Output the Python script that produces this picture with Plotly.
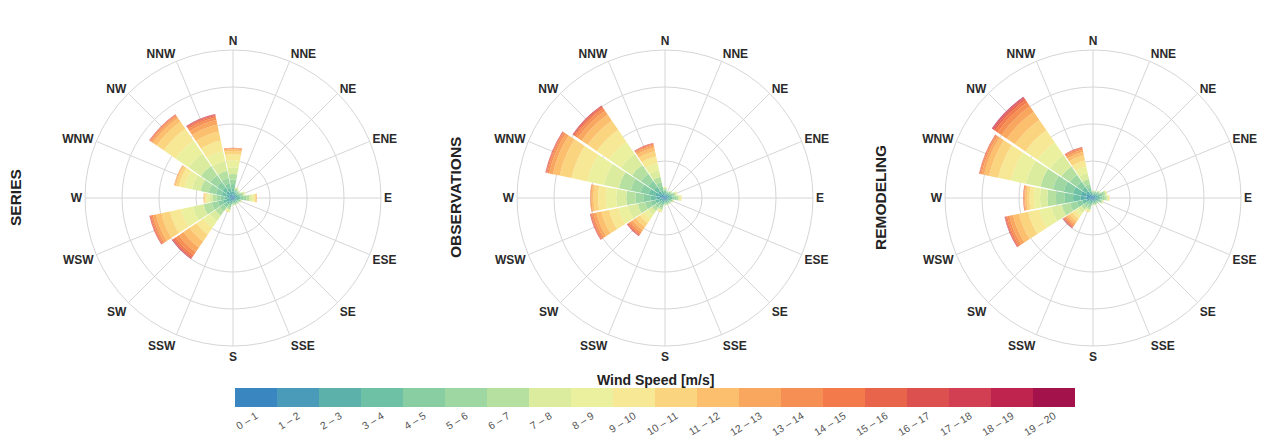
import plotly.graph_objects as go

directions = ["N", "NNE", "NE", "ENE", "E", "ESE", "SE", "SSE",
              "S", "SSW", "SW", "WSW", "W", "WNW", "NW", "NNW"]
angles = [0, 22.5, 45, 67.5, 90, 112.5, 135, 157.5,
          180, 202.5, 225, 247.5, 270, 292.5, 315, 337.5]

speed_bins = ["0 – 1", "1 – 2", "2 – 3", "3 – 4", "4 – 5", "5 – 6", "6 – 7",
              "7 – 8", "8 – 9", "9 – 10", "10 – 11", "11 – 12", "12 – 13",
              "13 – 14", "14 – 15", "15 – 16", "16 – 17", "17 – 18",
              "18 – 19", "19 – 20"]
bin_colors = ["#3a86c0", "#4a9bb9", "#5cb2aa", "#6fc1a5", "#89cea3", "#9fd7a2",
              "#b6e0a0", "#dcec9e", "#ebf09e", "#f6e894", "#fbd47f", "#fcbf6e",
              "#f9a65f", "#f68f54", "#f27a4b", "#e8644a", "#dc5050", "#d23f53",
              "#bf244f", "#a3124b"]

panel_titles = ["SERIES", "OBSERVATIONS", "REMODELING"]

# frequency [%] per direction (rows, N..NNW) and speed bin (columns, 0-1 .. 19-20)
series_freq = [
    [0.08, 0.12, 0.15, 0.18, 0.22, 0.25, 0.30, 0.36, 0.38, 0.32, 0.18, 0.09, 0.05, 0.02, 0.01, 0.01, 0, 0, 0, 0],  # N
    [0.06, 0.08, 0.09, 0.09, 0.08, 0.07, 0.05, 0.04, 0.02, 0.01, 0.01, 0, 0, 0, 0, 0, 0, 0, 0, 0],  # NNE
    [0.06, 0.08, 0.08, 0.08, 0.07, 0.05, 0.04, 0.02, 0.01, 0.01, 0, 0, 0, 0, 0, 0, 0, 0, 0, 0],  # NE
    [0.06, 0.08, 0.10, 0.10, 0.10, 0.09, 0.07, 0.05, 0.03, 0.02, 0, 0, 0, 0, 0, 0, 0, 0, 0, 0],  # ENE
    [0.06, 0.09, 0.12, 0.14, 0.15, 0.16, 0.16, 0.14, 0.11, 0.08, 0.05, 0.03, 0.01, 0, 0, 0, 0, 0, 0, 0],  # E
    [0.05, 0.07, 0.08, 0.08, 0.07, 0.06, 0.04, 0.03, 0.01, 0.01, 0, 0, 0, 0, 0, 0, 0, 0, 0, 0],  # ESE
    [0.05, 0.06, 0.07, 0.07, 0.06, 0.04, 0.03, 0.01, 0.01, 0, 0, 0, 0, 0, 0, 0, 0, 0, 0, 0],  # SE
    [0.05, 0.06, 0.07, 0.06, 0.06, 0.05, 0.03, 0.01, 0.01, 0, 0, 0, 0, 0, 0, 0, 0, 0, 0, 0],  # SSE
    [0.05, 0.06, 0.06, 0.06, 0.06, 0.05, 0.03, 0.02, 0.01, 0, 0, 0, 0, 0, 0, 0, 0, 0, 0, 0],  # S
    [0.06, 0.08, 0.10, 0.10, 0.10, 0.10, 0.09, 0.07, 0.05, 0.03, 0.02, 0, 0, 0, 0, 0, 0, 0, 0, 0],  # SSW
    [0.06, 0.09, 0.12, 0.15, 0.20, 0.25, 0.30, 0.36, 0.42, 0.45, 0.45, 0.40, 0.30, 0.20, 0.12, 0.07, 0.03, 0.02, 0.01, 0],  # SW
    [0.08, 0.12, 0.15, 0.20, 0.28, 0.35, 0.45, 0.58, 0.65, 0.62, 0.48, 0.30, 0.16, 0.09, 0.05, 0.03, 0.02, 0.01, 0, 0],  # WSW
    [0.06, 0.10, 0.14, 0.17, 0.20, 0.22, 0.22, 0.18, 0.13, 0.09, 0.05, 0.03, 0.01, 0, 0, 0, 0, 0, 0, 0],  # W
    [0.08, 0.12, 0.18, 0.25, 0.32, 0.40, 0.45, 0.47, 0.42, 0.30, 0.16, 0.07, 0.03, 0.01, 0, 0, 0, 0, 0, 0],  # WNW
    [0.10, 0.15, 0.20, 0.25, 0.35, 0.45, 0.60, 0.80, 0.85, 0.80, 0.45, 0.25, 0.12, 0.06, 0.03, 0.02, 0.01, 0.01, 0, 0],  # NW
    [0.08, 0.12, 0.15, 0.20, 0.25, 0.30, 0.40, 0.52, 0.58, 0.58, 0.50, 0.38, 0.25, 0.14, 0.08, 0.05, 0.03, 0.02, 0.01, 0],  # NNW
]

observations_freq = [
    [0.06, 0.08, 0.09, 0.09, 0.08, 0.07, 0.06, 0.04, 0.02, 0.01, 0, 0, 0, 0, 0, 0, 0, 0, 0, 0],  # N
    [0.05, 0.07, 0.07, 0.07, 0.06, 0.04, 0.02, 0.01, 0.01, 0, 0, 0, 0, 0, 0, 0, 0, 0, 0, 0],  # NNE
    [0.06, 0.08, 0.08, 0.08, 0.07, 0.05, 0.04, 0.02, 0.01, 0.01, 0, 0, 0, 0, 0, 0, 0, 0, 0, 0],  # NE
    [0.06, 0.08, 0.10, 0.10, 0.10, 0.09, 0.07, 0.05, 0.03, 0.02, 0, 0, 0, 0, 0, 0, 0, 0, 0, 0],  # ENE
    [0.06, 0.09, 0.11, 0.13, 0.13, 0.12, 0.10, 0.07, 0.05, 0.03, 0.01, 0, 0, 0, 0, 0, 0, 0, 0, 0],  # E
    [0.05, 0.07, 0.08, 0.08, 0.07, 0.06, 0.04, 0.03, 0.01, 0.01, 0, 0, 0, 0, 0, 0, 0, 0, 0, 0],  # ESE
    [0.05, 0.06, 0.07, 0.07, 0.06, 0.04, 0.03, 0.01, 0.01, 0, 0, 0, 0, 0, 0, 0, 0, 0, 0, 0],  # SE
    [0.05, 0.06, 0.07, 0.06, 0.06, 0.05, 0.03, 0.01, 0.01, 0, 0, 0, 0, 0, 0, 0, 0, 0, 0, 0],  # SSE
    [0.05, 0.06, 0.06, 0.06, 0.06, 0.05, 0.03, 0.02, 0.01, 0, 0, 0, 0, 0, 0, 0, 0, 0, 0, 0],  # S
    [0.06, 0.08, 0.10, 0.10, 0.10, 0.10, 0.09, 0.07, 0.05, 0.03, 0.02, 0, 0, 0, 0, 0, 0, 0, 0, 0],  # SSW
    [0.05, 0.07, 0.09, 0.12, 0.15, 0.18, 0.20, 0.24, 0.27, 0.28, 0.26, 0.21, 0.15, 0.10, 0.06, 0.04, 0.02, 0.01, 0.01, 0],  # SW
    [0.07, 0.11, 0.15, 0.20, 0.26, 0.32, 0.40, 0.50, 0.56, 0.52, 0.42, 0.28, 0.16, 0.09, 0.05, 0.03, 0.02, 0.01, 0, 0],  # WSW
    [0.10, 0.15, 0.22, 0.30, 0.38, 0.45, 0.50, 0.54, 0.56, 0.42, 0.24, 0.11, 0.05, 0.02, 0.01, 0, 0, 0, 0, 0],  # W
    [0.12, 0.18, 0.25, 0.35, 0.45, 0.55, 0.65, 0.82, 0.92, 0.88, 0.65, 0.38, 0.20, 0.10, 0.05, 0.03, 0.02, 0.01, 0, 0],  # WNW
    [0.10, 0.15, 0.20, 0.28, 0.38, 0.48, 0.58, 0.72, 0.80, 0.78, 0.60, 0.40, 0.25, 0.15, 0.09, 0.05, 0.03, 0.02, 0.01, 0],  # NW
    [0.06, 0.09, 0.12, 0.15, 0.20, 0.25, 0.30, 0.37, 0.40, 0.37, 0.29, 0.19, 0.11, 0.06, 0.04, 0.02, 0.01, 0.01, 0, 0],  # NNW
]

remodeling_freq = [
    [0.05, 0.06, 0.07, 0.06, 0.06, 0.05, 0.03, 0.01, 0.01, 0, 0, 0, 0, 0, 0, 0, 0, 0, 0, 0],  # N
    [0.05, 0.06, 0.07, 0.07, 0.06, 0.04, 0.03, 0.01, 0.01, 0, 0, 0, 0, 0, 0, 0, 0, 0, 0, 0],  # NNE
    [0.06, 0.08, 0.08, 0.08, 0.07, 0.05, 0.04, 0.02, 0.01, 0.01, 0, 0, 0, 0, 0, 0, 0, 0, 0, 0],  # NE
    [0.07, 0.09, 0.11, 0.12, 0.12, 0.11, 0.08, 0.05, 0.03, 0.02, 0, 0, 0, 0, 0, 0, 0, 0, 0, 0],  # ENE
    [0.06, 0.09, 0.11, 0.13, 0.13, 0.12, 0.10, 0.07, 0.05, 0.03, 0.01, 0, 0, 0, 0, 0, 0, 0, 0, 0],  # E
    [0.06, 0.08, 0.09, 0.09, 0.09, 0.07, 0.05, 0.04, 0.02, 0.01, 0, 0, 0, 0, 0, 0, 0, 0, 0, 0],  # ESE
    [0.05, 0.06, 0.07, 0.07, 0.06, 0.04, 0.03, 0.01, 0.01, 0, 0, 0, 0, 0, 0, 0, 0, 0, 0, 0],  # SE
    [0.05, 0.06, 0.07, 0.06, 0.06, 0.05, 0.03, 0.01, 0.01, 0, 0, 0, 0, 0, 0, 0, 0, 0, 0, 0],  # SSE
    [0.05, 0.06, 0.06, 0.06, 0.06, 0.05, 0.03, 0.02, 0.01, 0, 0, 0, 0, 0, 0, 0, 0, 0, 0, 0],  # S
    [0.06, 0.08, 0.10, 0.10, 0.10, 0.10, 0.09, 0.07, 0.05, 0.03, 0.02, 0, 0, 0, 0, 0, 0, 0, 0, 0],  # SSW
    [0.05, 0.07, 0.09, 0.11, 0.13, 0.15, 0.17, 0.19, 0.21, 0.20, 0.18, 0.14, 0.10, 0.07, 0.05, 0.03, 0.02, 0.01, 0.01, 0],  # SW
    [0.08, 0.12, 0.17, 0.22, 0.30, 0.38, 0.46, 0.58, 0.65, 0.62, 0.50, 0.34, 0.20, 0.12, 0.07, 0.04, 0.02, 0.01, 0.01, 0],  # WSW
    [0.14, 0.22, 0.32, 0.40, 0.45, 0.48, 0.46, 0.40, 0.32, 0.24, 0.15, 0.09, 0.05, 0.03, 0.02, 0.01, 0, 0, 0, 0],  # W
    [0.14, 0.22, 0.32, 0.42, 0.52, 0.60, 0.68, 0.80, 0.82, 0.72, 0.50, 0.28, 0.14, 0.07, 0.04, 0.02, 0.01, 0, 0, 0],  # WNW
    [0.10, 0.15, 0.20, 0.27, 0.35, 0.45, 0.55, 0.75, 0.82, 0.80, 0.68, 0.54, 0.36, 0.24, 0.16, 0.10, 0.06, 0.03, 0.02, 0.01],  # NW
    [0.05, 0.08, 0.11, 0.14, 0.18, 0.22, 0.27, 0.33, 0.36, 0.34, 0.28, 0.19, 0.12, 0.07, 0.04, 0.02, 0.01, 0.01, 0, 0],  # NNW
]

panels = [series_freq, observations_freq, remodeling_freq]

W_PX, H_PX = 1263, 437
centers_x = [233, 665, 1093]
title_x = [15, 455, 880]
center_y = 198
radius_px = 148

fig = go.Figure()

for p, freq in enumerate(panels):
    polar_name = "polar" if p == 0 else f"polar{p + 1}"
    for b, label in enumerate(speed_bins):
        fig.add_trace(go.Barpolar(
            r=[row[b] for row in freq],
            theta=angles,
            width=21,
            name=label,
            marker=dict(color=bin_colors[b], line=dict(width=0)),
            subplot=polar_name,
            showlegend=False,
        ))
    cx = centers_x[p]
    fig.layout[polar_name] = dict(
        domain=dict(x=[(cx - radius_px) / W_PX, (cx + radius_px) / W_PX],
                    y=[(H_PX - center_y - radius_px) / H_PX, (H_PX - center_y + radius_px) / H_PX]),
        bgcolor="white",
        barmode="stack",
        radialaxis=dict(range=[0, 8], tickvals=[2, 4, 6, 8], showticklabels=False,
                        ticks="", showline=False, gridcolor="#d6d6d6", gridwidth=1),
        angularaxis=dict(rotation=90, direction="clockwise", tickvals=angles,
                         ticktext=[f"<b>{d}</b>" for d in directions],
                         tickfont=dict(family="Liberation Sans", size=12, color="#2a2a2a"),
                         ticks="", showline=True, linecolor="#d6d6d6", linewidth=1,
                         gridcolor="#d6d6d6", gridwidth=1),
    )
    fig.add_annotation(
        text=f"<b>{panel_titles[p]}</b>", textangle=-90,
        x=title_x[p] / W_PX, y=(H_PX - center_y) / H_PX,
        xref="paper", yref="paper", showarrow=False,
        xanchor="center", yanchor="middle",
        font=dict(family="Liberation Sans", size=15.5, color="#222222"),
    )

# discrete colour bar built as a one-row heatmap
n = len(speed_bins)
colorscale = []
for k, c in enumerate(bin_colors):
    colorscale.append([k / n, c])
    colorscale.append([(k + 1) / n, c])
fig.add_trace(go.Heatmap(
    z=[list(range(n))], x=speed_bins, y=[0],
    zmin=-0.5, zmax=n - 0.5, colorscale=colorscale, showscale=False,
    hoverinfo="skip", xaxis="x", yaxis="y",
))

bar_left, bar_right, bar_top, bar_bottom = 235, 1075, 388, 407
fig.update_layout(
    width=W_PX, height=H_PX,
    margin=dict(l=0, r=0, t=0, b=0),
    paper_bgcolor="white", plot_bgcolor="white",
    font=dict(family="Liberation Sans"),
    xaxis=dict(domain=[bar_left / W_PX, bar_right / W_PX], anchor="y",
               tickangle=-32, tickfont=dict(size=10.5, color="#555555"),
               showgrid=False, zeroline=False, showline=False, ticks=""),
    yaxis=dict(domain=[(H_PX - bar_bottom) / H_PX, (H_PX - bar_top) / H_PX], anchor="x",
               showticklabels=False, showgrid=False, zeroline=False, showline=False),
)
fig.add_annotation(
    text="<b>Wind Speed [m/s]</b>", x=(bar_left + bar_right) / 2 / W_PX, y=(H_PX - 380) / H_PX,
    xref="paper", yref="paper", showarrow=False, xanchor="center", yanchor="middle",
    font=dict(family="Liberation Sans", size=14, color="#222222"),
)

fig.write_html("out.html", config={"displayModeBar": False},
               post_script="document.body.style.margin='0px';")
